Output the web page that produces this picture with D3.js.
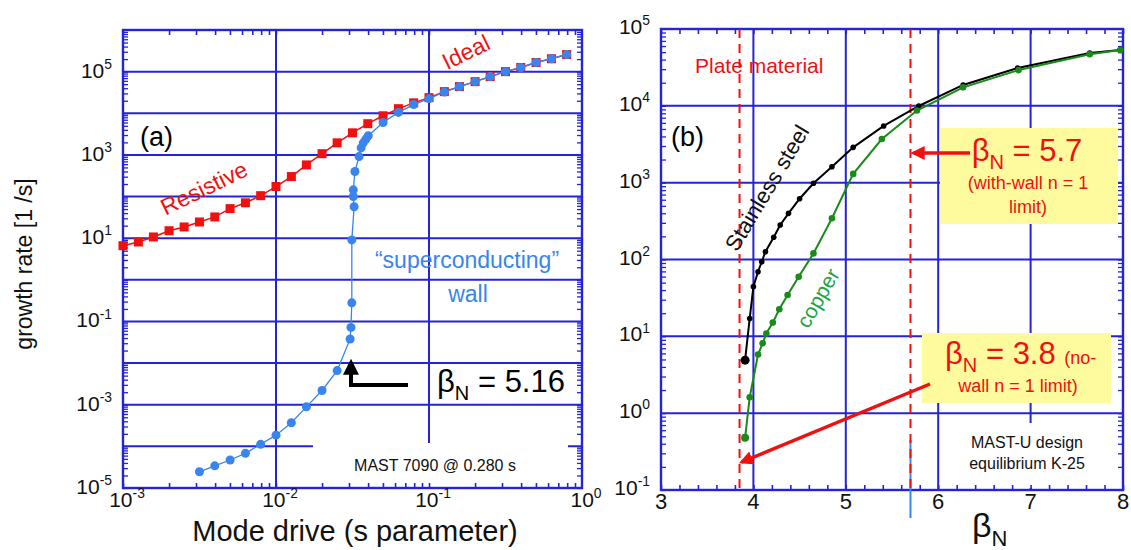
<!DOCTYPE html>
<html>
<head>
<meta charset="utf-8">
<script src="https://cdn.jsdelivr.net/npm/d3@7"></script>
<style>
body { margin: 0; background: #fff; }
text { font-family: "Liberation Sans", Arial, Helvetica, sans-serif; }
</style>
</head>
<body>
<script>
var W = 1131, H = 550;
var gridBlue = "#2424d4",
    redC = "#f01010",
    blueC = "#3a84ee",
    greenC = "#1a8a1a";

// ---- panel (a): growth rate vs mode drive ----
var sValues = [0.00100, 0.00126, 0.00158, 0.00200, 0.00251, 0.00316, 0.00398, 0.00501, 0.00631, 0.00794,
               0.0100, 0.0126, 0.0158, 0.0200, 0.0251, 0.0316, 0.0398, 0.0501, 0.0631, 0.0794,
               0.100, 0.126, 0.158, 0.200, 0.251, 0.316, 0.398, 0.501, 0.631, 0.794];
var resistiveRate = [6.6, 8.1, 10.7, 15.1, 18.6, 24.5, 32.4, 51.3, 70.8, 105,
                     174, 302, 575, 1070, 1950, 3390, 5620, 8710, 12900, 17800,
                     23700, 33100, 43700, 57500, 75900, 100000, 126000, 166000, 204000, 257000];
var wallS = [0.00316, 0.00398, 0.00501, 0.00631, 0.00794, 0.0100, 0.0126, 0.0158, 0.0200, 0.0251,
             0.0305, 0.0309, 0.0313, 0.0313, 0.0324, 0.0320, 0.0320, 0.0328, 0.0349, 0.0360,
             0.0372, 0.0387, 0.0401, 0.0501, 0.0631, 0.0794, 0.100, 0.126, 0.158, 0.200,
             0.251, 0.316, 0.398, 0.501, 0.631, 0.794];
var wallRate = [2.45e-5, 3.4e-5, 4.7e-5, 6.8e-5, 1.12e-4, 1.86e-4, 3.7e-4, 8.9e-4, 2.2e-3, 6.6e-3,
                0.038, 0.072, 0.28, 9.1, 57, 100, 145, 400, 910, 1480,
                1950, 2400, 2880, 6000, 10500, 16200, 22400, 32400, 43700, 57500,
                75900, 100000, 126000, 166000, 204000, 257000];
var aYLabels = [1e-5, 1e-3, 1e-1, 1e1, 1e3, 1e5];
var aXLabels = [1e-3, 1e-2, 1e-1, 1e0];

// ---- panel (b): growth rate vs beta_N ----
var steelBeta = [3.91, 3.96, 4.00, 4.05, 4.09, 4.13, 4.22, 4.29, 4.38, 4.50,
                 4.65, 4.85, 5.08, 5.41, 5.79, 6.27, 6.86, 7.64, 7.97];
var steelRate = [4.9, 17.1, 44.3, 69.3, 93.5, 126, 195, 281, 399, 618,
                 982, 1610, 2880, 5470, 9950, 18700, 31000, 48800, 53300];
var copperBeta = [3.91, 3.96, 4.05, 4.10, 4.14, 4.21, 4.28, 4.37, 4.49, 4.65,
                  4.85, 5.08, 5.39, 5.77, 6.27, 6.87, 7.64, 7.97];
var copperRate = [0.48, 1.61, 5.79, 8.11, 10.9, 15.1, 22.5, 34.5, 59.7, 120,
                  344, 1300, 3700, 8690, 17400, 29200, 46900, 53300];
var wallLimits = [3.85, 5.7];
var bXTicks = [3, 4, 5, 6, 7, 8];
var bYLabels = [1e-1, 1e0, 1e1, 1e2, 1e3, 1e4, 1e5];

var svg = d3.select("body").append("svg").attr("width", W).attr("height", H);

var defs = svg.append("defs");
function arrowMarker(id, col) {
    defs.append("marker").attr("id", id)
        .attr("viewBox", "0 0 10 10").attr("refX", 8).attr("refY", 5)
        .attr("markerWidth", 4).attr("markerHeight", 4).attr("orient", "auto")
        .append("path").attr("d", "M0,0 L10,5 L0,10 z").attr("fill", col);
}
arrowMarker("arrRed", redC);
arrowMarker("arrBlack", "#000");

function logMinor(lo, hi) {
    var out = [];
    for (var e = Math.round(Math.log10(lo)); e < Math.round(Math.log10(hi)); e++) {
        for (var m = 1; m < 10; m++) out.push(m * Math.pow(10, e));
    }
    return out;
}
function supText(g, x, y, anchor, fs, exp) {
    var t = g.append("text").attr("x", x).attr("y", y).attr("text-anchor", anchor)
        .attr("font-size", fs).attr("fill", "#111");
    t.append("tspan").text("10");
    t.append("tspan").attr("dy", -fs * 0.42).attr("font-size", fs * 0.66).text(exp);
    return t;
}
function frameTicks(g, x, y, xMinor, yMinor, left, right, top, bottom) {
    g.append("g").attr("transform", "translate(0," + top + ")")
        .call(d3.axisBottom(x).tickValues(xMinor).tickSize(5).tickFormat(""))
        .call(function (a) { a.select(".domain").remove(); a.selectAll("line").attr("stroke", gridBlue).attr("stroke-width", 1.6); });
    g.append("g").attr("transform", "translate(0," + bottom + ")")
        .call(d3.axisTop(x).tickValues(xMinor).tickSize(5).tickFormat(""))
        .call(function (a) { a.select(".domain").remove(); a.selectAll("line").attr("stroke", gridBlue).attr("stroke-width", 1.6); });
    g.append("g").attr("transform", "translate(" + left + ",0)")
        .call(d3.axisRight(y).tickValues(yMinor).tickSize(5).tickFormat(""))
        .call(function (a) { a.select(".domain").remove(); a.selectAll("line").attr("stroke", gridBlue).attr("stroke-width", 1.3); });
    g.append("g").attr("transform", "translate(" + right + ",0)")
        .call(d3.axisLeft(y).tickValues(yMinor).tickSize(5).tickFormat(""))
        .call(function (a) { a.select(".domain").remove(); a.selectAll("line").attr("stroke", gridBlue).attr("stroke-width", 1.3); });
    g.append("rect").attr("x", left).attr("y", top).attr("width", right - left).attr("height", bottom - top)
        .attr("fill", "none").attr("stroke", gridBlue).attr("stroke-width", 2.4);
}

// =================== panel (a) ===================
var xa = d3.scaleLog().domain([1e-3, 1]).range([123, 582]);
var ya = d3.scaleLog().domain([1e-5, 1e6]).range([488, 30]);
var ga = svg.append("g");

ga.append("g").selectAll("line.h").data(logMinor(1e-5, 1e6).filter(function (v, i) { return i % 9 === 0; }))
    .enter().append("line")
    .attr("x1", 123).attr("x2", 582).attr("y1", function (d) { return ya(d); }).attr("y2", function (d) { return ya(d); })
    .attr("stroke", gridBlue).attr("stroke-width", 2);
ga.append("g").selectAll("line.v").data([1e-2, 1e-1]).enter().append("line")
    .attr("x1", function (d) { return xa(d); }).attr("x2", function (d) { return xa(d); })
    .attr("y1", 30).attr("y2", 488).attr("stroke", gridBlue).attr("stroke-width", 2);

// white box behind the shot label
ga.append("rect").attr("x", 313).attr("y", 443).attr("width", 255).attr("height", 44).attr("fill", "#fff");

frameTicks(ga, xa, ya, logMinor(1e-3, 1), logMinor(1e-5, 1e6), 123, 582, 30, 488);

aYLabels.forEach(function (v) {
    supText(ga, 112, ya(v) + 6, "end", 21, Math.round(Math.log10(v)));
});
aXLabels.forEach(function (v) {
    supText(ga, xa(v) + 4, 507, "middle", 21, Math.round(Math.log10(v)));
});

var resPts = sValues.map(function (s, i) { return [s, resistiveRate[i]]; });
var wallPts = wallS.map(function (s, i) { return [s, wallRate[i]]; });
var lineA = d3.line().x(function (d) { return xa(d[0]); }).y(function (d) { return ya(d[1]); });

ga.append("path").attr("d", lineA(resPts)).attr("fill", "none").attr("stroke", redC).attr("stroke-width", 1.5);
ga.append("g").selectAll("rect").data(resPts).enter().append("rect")
    .attr("x", function (d) { return xa(d[0]) - 4.5; }).attr("y", function (d) { return ya(d[1]) - 4.5; })
    .attr("width", 9).attr("height", 9).attr("fill", redC);
ga.append("path").attr("d", lineA(wallPts)).attr("fill", "none").attr("stroke", blueC).attr("stroke-width", 1.3);
ga.append("g").selectAll("circle").data(wallPts).enter().append("circle")
    .attr("cx", function (d) { return xa(d[0]); }).attr("cy", function (d) { return ya(d[1]); })
    .attr("r", 4.5).attr("fill", blueC);

ga.append("text").attr("x", 140).attr("y", 146).attr("font-size", 27).text("(a)");
ga.append("text").attr("transform", "translate(204,188) rotate(-26)").attr("text-anchor", "middle")
    .attr("dy", "0.35em").attr("font-size", 23).attr("fill", redC).text("Resistive");
ga.append("text").attr("transform", "translate(466,52) rotate(-26)").attr("text-anchor", "middle")
    .attr("dy", "0.35em").attr("font-size", 23).attr("fill", redC).text("Ideal");
ga.append("text").attr("x", 467).attr("y", 268).attr("text-anchor", "middle")
    .attr("font-size", 23).attr("fill", blueC).text("\u201csuperconducting\u201d");
ga.append("text").attr("x", 468).attr("y", 302).attr("text-anchor", "middle")
    .attr("font-size", 23).attr("fill", blueC).text("wall");

// beta_N = 5.16 annotation
var b516 = ga.append("text").attr("x", 437).attr("y", 392).attr("font-size", 31).attr("fill", "#000");
b516.append("tspan").text("\u03b2");
b516.append("tspan").attr("dy", 8).attr("font-size", 20).text("N");
b516.append("tspan").attr("dy", -8).text(" = 5.16");
ga.append("path").attr("d", "M408,385 L351,385 L351,362")
    .attr("fill", "none").attr("stroke", "#000").attr("stroke-width", 4)
    .attr("marker-end", "url(#arrBlack)");

ga.append("text").attr("x", 435).attr("y", 471).attr("text-anchor", "middle")
    .attr("font-size", 16).attr("fill", "#111").text("MAST 7090 @ 0.280 s");

ga.append("text").attr("transform", "translate(32,264) rotate(-90)").attr("text-anchor", "middle")
    .attr("font-size", 23).attr("fill", "#111").text("growth rate [1 /s]");
ga.append("text").attr("x", 355).attr("y", 541).attr("text-anchor", "middle")
    .attr("font-size", 29).attr("fill", "#111").text("Mode drive (s parameter)");

// =================== panel (b) ===================
var xb = d3.scaleLinear().domain([3, 8]).range([661, 1123]);
var yb = d3.scaleLog().domain([0.1, 1e5]).range([490, 29]);
var gb = svg.append("g");

gb.append("g").selectAll("line").data(bYLabels).enter().append("line")
    .attr("x1", 661).attr("x2", 1123).attr("y1", function (d) { return yb(d); }).attr("y2", function (d) { return yb(d); })
    .attr("stroke", gridBlue).attr("stroke-width", 2);
gb.append("g").selectAll("line").data([4, 5, 6, 7]).enter().append("line")
    .attr("x1", function (d) { return xb(d); }).attr("x2", function (d) { return xb(d); })
    .attr("y1", 29).attr("y2", 490).attr("stroke", gridBlue).attr("stroke-width", 2);

// white box behind equilibrium label
gb.append("rect").attr("x", 955).attr("y", 423).attr("width", 164).attr("height", 65).attr("fill", "#fff");

var bMinorX = d3.range(30, 81, 2).map(function (v) { return v / 10; });
frameTicks(gb, xb, yb, bMinorX, logMinor(0.1, 1e5), 661, 1123, 29, 490);

bYLabels.forEach(function (v) {
    supText(gb, 650, yb(v) + 5, "end", 21, Math.round(Math.log10(v)));
});
bXTicks.forEach(function (v) {
    gb.append("text").attr("x", xb(v)).attr("y", 509).attr("text-anchor", "middle")
        .attr("font-size", 22).attr("fill", "#111").text(v);
});

// wall limit lines
gb.append("line").attr("x1", xb(wallLimits[1])).attr("x2", xb(wallLimits[1]))
    .attr("y1", 440).attr("y2", 518).attr("stroke", blueC).attr("stroke-width", 2);
gb.append("g").selectAll("line").data(wallLimits).enter().append("line")
    .attr("x1", function (d) { return xb(d); }).attr("x2", function (d) { return xb(d); })
    .attr("y1", 29).attr("y2", 490)
    .attr("stroke", redC).attr("stroke-width", 2).attr("stroke-dasharray", "9,6");

var lineB = d3.line().x(function (d) { return xb(d[0]); }).y(function (d) { return yb(d[1]); });
var steelPts = steelBeta.map(function (b, i) { return [b, steelRate[i]]; });
var copperPts = copperBeta.map(function (b, i) { return [b, copperRate[i]]; });

gb.append("path").attr("d", lineB(steelPts)).attr("fill", "none").attr("stroke", "#000").attr("stroke-width", 2);
gb.append("g").selectAll("circle").data(steelPts).enter().append("circle")
    .attr("cx", function (d) { return xb(d[0]); }).attr("cy", function (d) { return yb(d[1]); })
    .attr("r", function (d, i) { return i === 0 ? 4.5 : 2.8; }).attr("fill", "#000");
gb.append("path").attr("d", lineB(copperPts)).attr("fill", "none").attr("stroke", greenC).attr("stroke-width", 2);
gb.append("g").selectAll("circle").data(copperPts).enter().append("circle")
    .attr("cx", function (d) { return xb(d[0]); }).attr("cy", function (d) { return yb(d[1]); })
    .attr("r", function (d, i) { return i === 0 ? 4 : 3.3; }).attr("fill", greenC);

gb.append("text").attr("x", 695).attr("y", 73).attr("font-size", 21).attr("fill", redC).text("Plate material");
gb.append("text").attr("x", 671).attr("y", 146).attr("font-size", 27).text("(b)");
gb.append("text").attr("transform", "translate(767,188) rotate(-59)").attr("text-anchor", "middle")
    .attr("dy", "0.35em").attr("font-size", 22).attr("fill", "#111").text("Stainless steel");
gb.append("text").attr("transform", "translate(818,298) rotate(-60)").attr("text-anchor", "middle")
    .attr("dy", "0.35em").attr("font-size", 21).attr("fill", "#22a544").text("copper");

// yellow notes
gb.append("rect").attr("x", 940).attr("y", 128).attr("width", 178).attr("height", 96).attr("fill", "#fdfb9e");
var b57 = gb.append("text").attr("x", 1027).attr("y", 161).attr("text-anchor", "middle")
    .attr("font-size", 31).attr("fill", redC);
b57.append("tspan").text("\u03b2");
b57.append("tspan").attr("dy", 8).attr("font-size", 20).text("N");
b57.append("tspan").attr("dy", -8).text(" = 5.7");
gb.append("text").attr("x", 1028).attr("y", 189).attr("text-anchor", "middle")
    .attr("font-size", 18).attr("fill", redC).text("(with-wall n = 1");
gb.append("text").attr("x", 1028).attr("y", 213).attr("text-anchor", "middle")
    .attr("font-size", 18).attr("fill", redC).text("limit)");
gb.append("line").attr("x1", 970).attr("y1", 153).attr("x2", xb(wallLimits[1]) + 3).attr("y2", 153)
    .attr("stroke", redC).attr("stroke-width", 3.5).attr("marker-end", "url(#arrRed)");

gb.append("rect").attr("x", 922).attr("y", 333).attr("width", 189).attr("height", 70).attr("fill", "#fdfb9e");
var b38 = gb.append("text").attr("x", 945).attr("y", 364).attr("font-size", 31).attr("fill", redC);
b38.append("tspan").text("\u03b2");
b38.append("tspan").attr("dy", 8).attr("font-size", 20).text("N");
b38.append("tspan").attr("dy", -8).text(" = 3.8 ");
b38.append("tspan").attr("font-size", 18).text("(no-");
gb.append("text").attr("x", 1018).attr("y", 392).attr("text-anchor", "middle")
    .attr("font-size", 18).attr("fill", redC).text("wall n = 1 limit)");
gb.append("line").attr("x1", 930).attr("y1", 384).attr("x2", xb(wallLimits[0]) + 2).attr("y2", yb(0.23))
    .attr("stroke", redC).attr("stroke-width", 3.5).attr("marker-end", "url(#arrRed)");

gb.append("text").attr("x", 1027).attr("y", 448).attr("text-anchor", "middle")
    .attr("font-size", 16).attr("fill", "#111").text("MAST-U design");
gb.append("text").attr("x", 1027).attr("y", 469).attr("text-anchor", "middle")
    .attr("font-size", 16).attr("fill", "#111").text("equilibrium K-25");

var bt = gb.append("text").attr("x", 972).attr("y", 537).attr("font-size", 34).attr("fill", "#111");
bt.append("tspan").text("\u03b2");
bt.append("tspan").attr("dy", 9).attr("font-size", 22).text("N");
</script>
</body>
</html>
